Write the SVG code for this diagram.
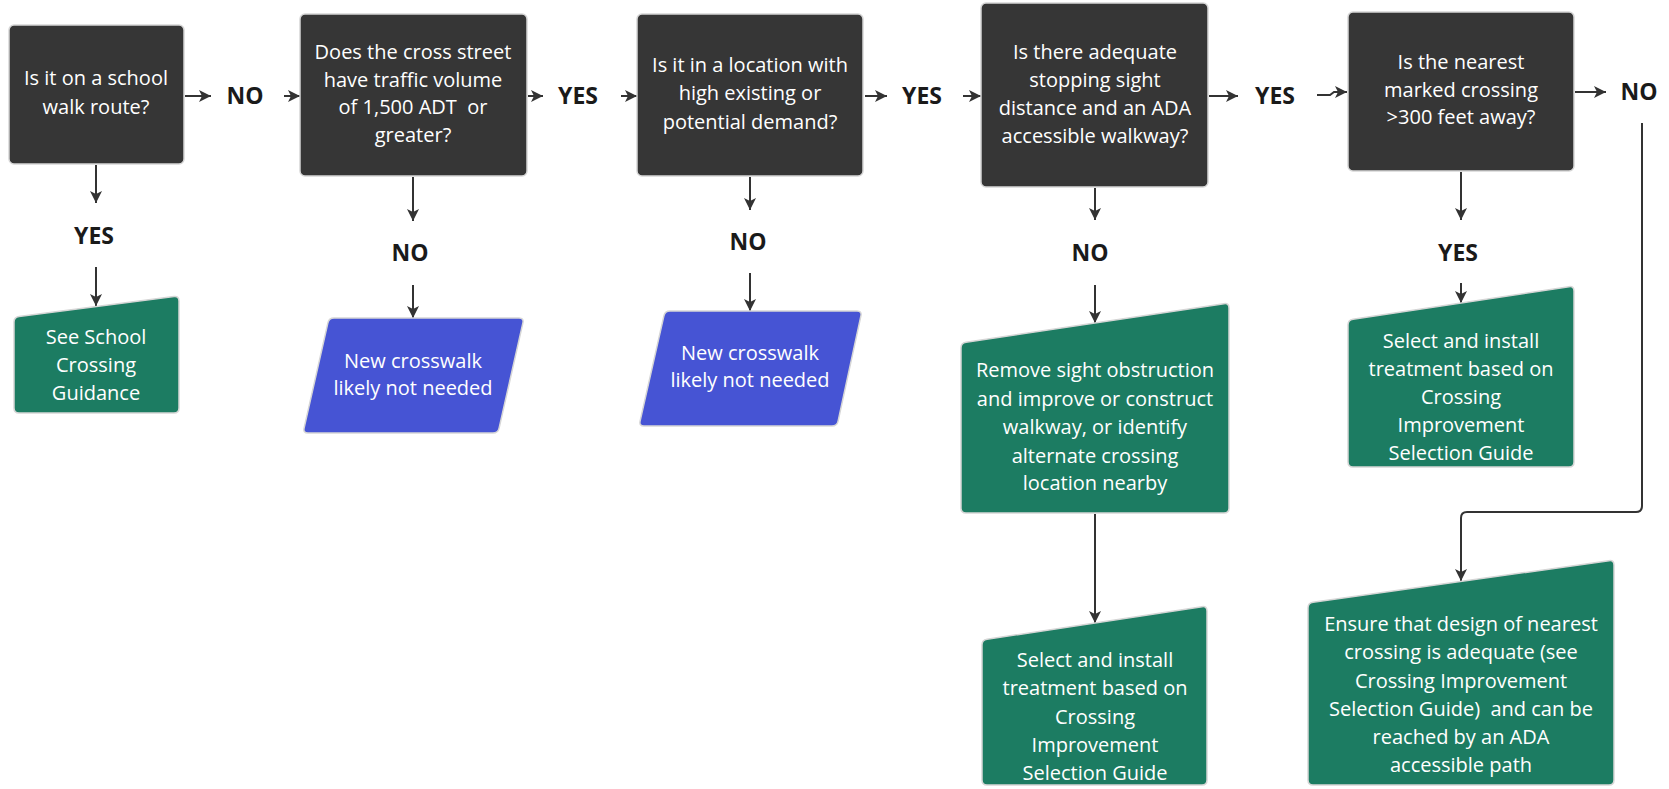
<svg xmlns="http://www.w3.org/2000/svg" width="1669" height="789" viewBox="0 0 1669 789">
<style>
.q{fill:#363636;stroke:#d6d6d6;stroke-width:1.5}
.g{fill:#1c7c62;stroke:#d6d6d6;stroke-width:1.5}
.b{fill:#4654d4;stroke:#d6d6d6;stroke-width:1.5}
.t{font-family:"Open Sans","Noto Sans","Liberation Sans",sans-serif;font-size:20px;fill:#ffffff;text-anchor:middle}
.l{font-family:"Open Sans","Noto Sans","Liberation Sans",sans-serif;font-size:23px;font-weight:bold;fill:#1a1a1a;text-anchor:middle}
.c{fill:none;stroke:#333333;stroke-width:2}
</style>
<defs>
<marker id="ah" markerUnits="userSpaceOnUse" markerWidth="14" markerHeight="14" refX="12" refY="6" orient="auto">
<path d="M0,0 L12,6 L0,12 L3,6 Z" fill="#333333"/>
</marker>
</defs>
<rect width="1669" height="789" fill="#ffffff"/>

<g id="connectors">
<line class="c" x1="185" y1="96" x2="211" y2="96" marker-end="url(#ah)"/>
<line class="c" x1="284" y1="96" x2="300" y2="96" marker-end="url(#ah)"/>
<line class="c" x1="528" y1="96" x2="543" y2="96" marker-end="url(#ah)"/>
<line class="c" x1="621" y1="96" x2="637" y2="96" marker-end="url(#ah)"/>
<line class="c" x1="865" y1="96" x2="887" y2="96" marker-end="url(#ah)"/>
<line class="c" x1="963" y1="96" x2="981" y2="96" marker-end="url(#ah)"/>
<line class="c" x1="1209" y1="96" x2="1238" y2="96" marker-end="url(#ah)"/>
<path class="c" d="M1317,95 L1330,95 L1334,92 L1347,92" marker-end="url(#ah)"/>
<line class="c" x1="1575" y1="92" x2="1606" y2="92" marker-end="url(#ah)"/>
<line class="c" x1="96" y1="165" x2="96" y2="203" marker-end="url(#ah)"/>
<line class="c" x1="96" y1="267" x2="96" y2="306" marker-end="url(#ah)"/>
<line class="c" x1="413" y1="177" x2="413" y2="221" marker-end="url(#ah)"/>
<line class="c" x1="413" y1="285" x2="413" y2="318" marker-end="url(#ah)"/>
<line class="c" x1="750" y1="177" x2="750" y2="210" marker-end="url(#ah)"/>
<line class="c" x1="750" y1="273" x2="750" y2="311" marker-end="url(#ah)"/>
<line class="c" x1="1095" y1="188" x2="1095" y2="220" marker-end="url(#ah)"/>
<line class="c" x1="1095" y1="285" x2="1095" y2="323" marker-end="url(#ah)"/>
<line class="c" x1="1095" y1="514" x2="1095" y2="623" marker-end="url(#ah)"/>
<line class="c" x1="1461" y1="172" x2="1461" y2="220" marker-end="url(#ah)"/>
<line class="c" x1="1461" y1="283" x2="1461" y2="303" marker-end="url(#ah)"/>
<path class="c" d="M1642,123 L1642,506 Q1642,512 1636,512 L1467,512 Q1461,512 1461,518 L1461,581" marker-end="url(#ah)"/>
</g>

<g id="labels">
<text class="l" x="245" y="104">NO</text>
<text class="l" x="578" y="104">YES</text>
<text class="l" x="922" y="104">YES</text>
<text class="l" x="1275" y="104">YES</text>
<text class="l" x="1639" y="100">NO</text>
<text class="l" x="94" y="244">YES</text>
<text class="l" x="410" y="261">NO</text>
<text class="l" x="748" y="250">NO</text>
<text class="l" x="1090" y="261">NO</text>
<text class="l" x="1458" y="261">YES</text>
</g>

<g id="q1">
<rect class="q" x="9" y="25" width="175" height="139" rx="5"/>
<text class="t" x="96" y="85">Is it on a school</text>
<text class="t" x="96" y="114">walk route?</text>
</g>
<g id="q2">
<rect class="q" x="300" y="14" width="227" height="162" rx="5"/>
<text class="t" x="413" y="59">Does the cross street</text>
<text class="t" x="413" y="87">have traffic volume</text>
<text class="t" x="413" y="114" xml:space="preserve">of 1,500 ADT  or</text>
<text class="t" x="413" y="142">greater?</text>
</g>
<g id="q3">
<rect class="q" x="637" y="14" width="226" height="162" rx="5"/>
<text class="t" x="750" y="72">Is it in a location with</text>
<text class="t" x="750" y="100">high existing or</text>
<text class="t" x="750" y="129">potential demand?</text>
</g>
<g id="q4">
<rect class="q" x="981" y="3" width="227" height="184" rx="5"/>
<text class="t" x="1095" y="59">Is there adequate</text>
<text class="t" x="1095" y="87">stopping sight</text>
<text class="t" x="1095" y="115">distance and an ADA</text>
<text class="t" x="1095" y="143">accessible walkway?</text>
</g>
<g id="q5">
<rect class="q" x="1348" y="12" width="226" height="159" rx="5"/>
<text class="t" x="1461" y="69">Is the nearest</text>
<text class="t" x="1461" y="97">marked crossing</text>
<text class="t" x="1461" y="124">&gt;300 feet away?</text>
</g>

<g id="school">
<path class="g" d="M14,322 Q14,317 19,316.4 L174,296.6 Q179,296 179,301 L179,408 Q179,413 174,413 L19,413 Q14,413 14,408 Z"/>
<text class="t" x="96" y="344">See School</text>
<text class="t" x="96" y="372">Crossing</text>
<text class="t" x="96" y="400">Guidance</text>
</g>
<g id="notneeded1">
<path class="b" d="M334,318 L519,318 Q524,318 522.9,322.9 L499.1,428.1 Q498,433 493,433 L308,433 Q303,433 304.1,428.1 L327.9,322.9 Q329,318 334,318 Z"/>
<text class="t" x="413" y="368">New crosswalk</text>
<text class="t" x="413" y="395">likely not needed</text>
</g>
<g id="notneeded2">
<path class="b" d="M670,311 L857,311 Q862,311 860.9,315.9 L838.1,421.1 Q837,426 832,426 L644,426 Q639,426 640.1,421.1 L663.9,315.9 Q665,311 670,311 Z"/>
<text class="t" x="750" y="360">New crosswalk</text>
<text class="t" x="750" y="387">likely not needed</text>
</g>
<g id="remove">
<path class="g" d="M961,348 Q961,343 966,342.3 L1224,303.7 Q1229,303 1229,308 L1229,508 Q1229,513 1224,513 L966,513 Q961,513 961,508 Z"/>
<text class="t" x="1095" y="377">Remove sight obstruction</text>
<text class="t" x="1095" y="406">and improve or construct</text>
<text class="t" x="1095" y="434">walkway, or identify</text>
<text class="t" x="1095" y="463">alternate crossing</text>
<text class="t" x="1095" y="490">location nearby</text>
</g>
<g id="select1">
<path class="g" d="M982,645 Q982,640 987,639.3 L1202,606.7 Q1207,606 1207,611 L1207,780 Q1207,785 1202,785 L987,785 Q982,785 982,780 Z"/>
<text class="t" x="1095" y="667">Select and install</text>
<text class="t" x="1095" y="695">treatment based on</text>
<text class="t" x="1095" y="724">Crossing</text>
<text class="t" x="1095" y="752">Improvement</text>
<text class="t" x="1095" y="780">Selection Guide</text>
</g>
<g id="select2">
<path class="g" d="M1348,325 Q1348,320 1353,319.3 L1569,286.7 Q1574,286 1574,291 L1574,462 Q1574,467 1569,467 L1353,467 Q1348,467 1348,462 Z"/>
<text class="t" x="1461" y="348">Select and install</text>
<text class="t" x="1461" y="376">treatment based on</text>
<text class="t" x="1461" y="404">Crossing</text>
<text class="t" x="1461" y="432">Improvement</text>
<text class="t" x="1461" y="460">Selection Guide</text>
</g>
<g id="ensure">
<path class="g" d="M1308,608 Q1308,603 1313,602.3 L1609,560.7 Q1614,560 1614,565 L1614,780 Q1614,785 1609,785 L1313,785 Q1308,785 1308,780 Z"/>
<text class="t" x="1461" y="631">Ensure that design of nearest</text>
<text class="t" x="1461" y="659">crossing is adequate (see</text>
<text class="t" x="1461" y="688">Crossing Improvement</text>
<text class="t" x="1461" y="716" xml:space="preserve">Selection Guide)  and can be</text>
<text class="t" x="1461" y="744">reached by an ADA</text>
<text class="t" x="1461" y="772">accessible path</text>
</g>
</svg>
